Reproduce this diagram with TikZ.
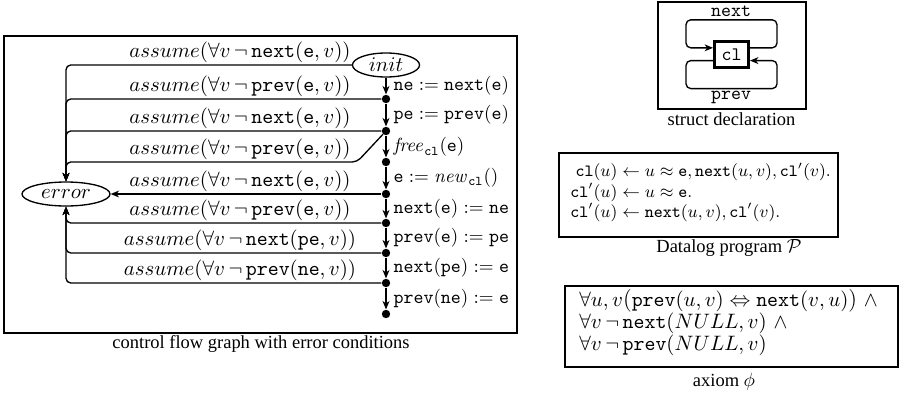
\documentclass[tikz,border=0pt]{standalone}
\usepackage[no-math]{fontspec}
\newfontfamily\capfont{Liberation Serif}
\usetikzlibrary{arrows.meta,calc,shapes.geometric}
% slightly enlarged parenthesis for the outer bracket of the axiom
\newcommand\largeparen[1]{\mbox{\fontsize{12.8}{14}\selectfont$#1$}}

\begin{document}
\begin{tikzpicture}[x=0.525pt,y=-0.525pt,
  frame/.style={line width=1.4pt},
  conn/.style={line width=0.7pt,-{Stealth[length=4.4pt,width=3.6pt,inset=1.3pt]},rounded corners=2.5pt},
  dot/.style={circle,fill,inner sep=0pt,minimum size=4.4pt},
  state/.style={ellipse,draw,line width=0.7pt,inner sep=0pt,minimum height=12.6pt,
    font=\fontsize{10.95}{13.6}\selectfont},
  lbl/.style={anchor=south,inner sep=1pt,font=\fontsize{10.95}{13.6}\selectfont},
  stmt/.style={anchor=west,inner sep=0pt,xshift=3.6pt},
  captext/.style={font=\capfont\fontsize{9.7}{12}\selectfont}]
\useasboundingbox (0,0) rectangle (908,392);

% ---------- control flow graph ----------
\draw[frame] (4,36) rectangle (517,333);

\node[state,minimum width=35.2pt] (init) at (386,65) {$init$};
\node[state,minimum width=46.2pt] (error) at (66,194) {$error$};
\foreach \i/\y in {1/99,2/131,3/162,4/194,5/223,6/253,7/283,8/314}
  \node[dot] (d\i) at (386,\y) {};

% main path of statements
\draw[conn] (init) -- node[stmt]{$\mathtt{ne} := \mathtt{next}(\mathtt{e})$} (d1);
\draw[conn] (d1) -- node[stmt]{$\mathtt{pe} := \mathtt{prev}(\mathtt{e})$} (d2);
\draw[conn] (d2) -- node[stmt]{$\mathit{free}_{\mathtt{cl}}(\mathtt{e})$} (d3);
\draw[conn] (d3) -- node[stmt]{$\mathtt{e} := \mathit{new}_{\mathtt{cl}}()$} (d4);
\draw[conn] (d4) -- node[stmt]{$\mathtt{next}(\mathtt{e}) := \mathtt{ne}$} (d5);
\draw[conn] (d5) -- node[stmt]{$\mathtt{prev}(\mathtt{e}) := \mathtt{pe}$} (d6);
\draw[conn] (d6) -- node[stmt]{$\mathtt{next}(\mathtt{pe}) := \mathtt{e}$} (d7);
\draw[conn] (d7) -- node[stmt]{$\mathtt{prev}(\mathtt{ne}) := \mathtt{e}$} (d8);

% error transitions
\draw[conn] (init) -| (error)
  node[lbl] at (240,65) {$assume(\forall v\,\neg\,\mathtt{next}(\mathtt{e},v))$};
\draw[conn] (d1) -| (error)
  node[lbl] at (240,99) {$assume(\forall v\,\neg\,\mathtt{prev}(\mathtt{e},v))$};
\draw[conn] (d2) -| (error)
  node[lbl] at (240,131) {$assume(\forall v\,\neg\,\mathtt{next}(\mathtt{e},v))$};
\coordinate (kink) at ($(d3)+(-29,0)$);
\draw[conn] (d2) -- (kink) -| (error)
  node[lbl] at (240,162) {$assume(\forall v\,\neg\,\mathtt{prev}(\mathtt{e},v))$};
\draw[conn] (d4) -- (error)
  node[lbl] at (240,194) {$assume(\forall v\,\neg\,\mathtt{next}(\mathtt{e},v))$};
\draw[conn] (d5) -| (error)
  node[lbl] at (240,223) {$assume(\forall v\,\neg\,\mathtt{prev}(\mathtt{e},v))$};
\draw[conn] (d6) -| (error)
  node[lbl] at (240,253) {$assume(\forall v\,\neg\,\mathtt{next}(\mathtt{pe},v))$};
\draw[conn] (d7) -| (error)
  node[lbl] at (240,283) {$assume(\forall v\,\neg\,\mathtt{prev}(\mathtt{ne},v))$};

\node[captext] (cfgcap) at (261,344) {control flow graph with error conditions};

% ---------- struct declaration ----------
\draw[frame] (658,2) rectangle (806,109);
\node[draw,line width=1.6pt,minimum width=17.8pt,minimum height=13.6pt,inner sep=0pt]
  (cl) at (731.5,54.5) {\texttt{cl}};
\draw[conn] ([yshift=3.5pt]cl.east) -- ++(27,0) -- ++(0,-28) -- ++(-91,0) -- ++(0,28)
  -- ([yshift=3.5pt]cl.west);
\draw[conn] ([yshift=-3.2pt]cl.west) -- ++(-27,0) -- ++(0,28) -- ++(91,0) -- ++(0,-28)
  -- ([yshift=-3.2pt]cl.east);
\node (nextlbl) at (731,11) {\texttt{next}};
\node (prevlbl) at (731,97) {\texttt{prev}};
\node[captext] (structcap) at (731.5,119) {struct declaration};

% ---------- Datalog program ----------
\draw[frame] (559,153) rectangle (838,237);
\node[anchor=west,inner sep=0pt,font=\fontsize{9}{11}\selectfont] (prog) at (570,193)
  {$\renewcommand\arraystretch{0.955}\begin{array}{@{}r@{\;\leftarrow\;}l@{}}
    \mathtt{cl}(u) & u\approx\mathtt{e},\mathtt{next}(u,v),\mathtt{cl}'(v).\\
    \mathtt{cl}'(u) & u\approx\mathtt{e}.\\
    \mathtt{cl}'(u) & \mathtt{next}(u,v),\mathtt{cl}'(v).
  \end{array}$};
\node[captext] (progcap) at (729,248) {Datalog program $\mathcal{P}$};

% ---------- axiom ----------
\draw[frame] (565,286) rectangle (898,367);
\node[anchor=west,inner sep=0pt,font=\fontsize{10.7}{13}\selectfont] (ax) at (579,323)
  {$\renewcommand\arraystretch{0.85}\begin{array}{@{}l@{}}
    \forall u,v\largeparen{(}\mathtt{prev}(u,v)\Leftrightarrow\mathtt{next}(v,u)\largeparen{)}\ \wedge\\
    \forall v\,\neg\,\mathtt{next}(NULL,v)\ \wedge\\
    \forall v\,\neg\,\mathtt{prev}(NULL,v)
  \end{array}$};
\node[captext] (axcap) at (724,382) {axiom $\phi$};
\end{tikzpicture}
\end{document}
